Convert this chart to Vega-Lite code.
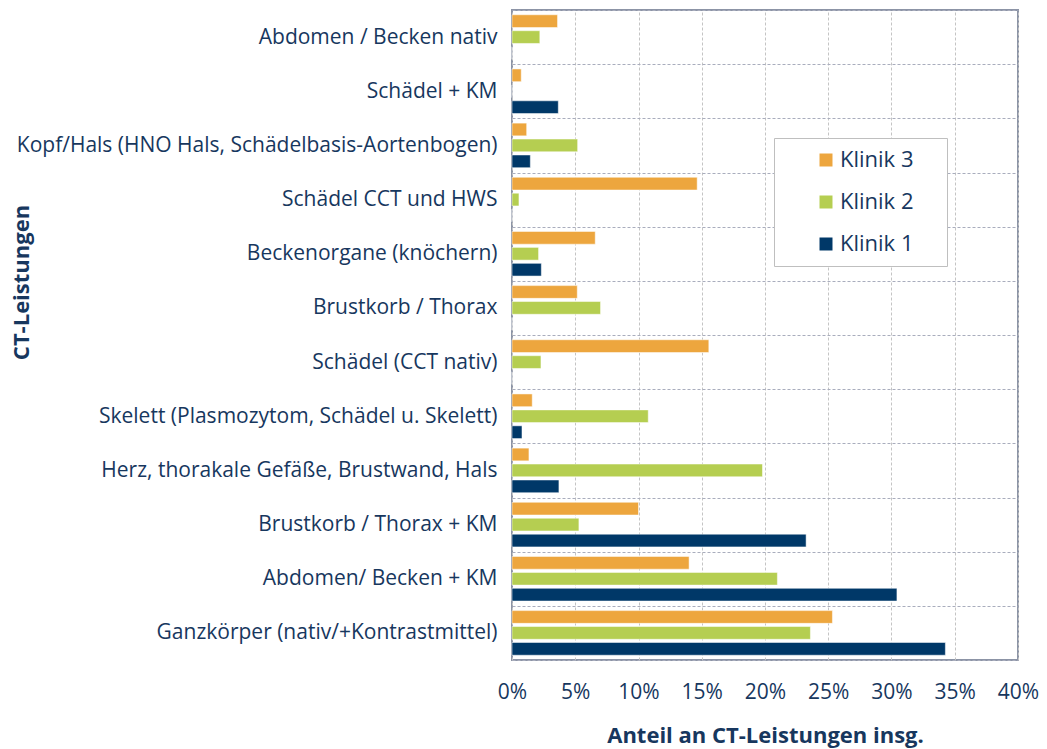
{
  "$schema": "https://vega.github.io/schema/vega-lite/v6.json",
  "width": 506,
  "height": 650,
  "autosize": "none",
  "padding": {"left": 512, "top": 10, "right": 29, "bottom": 89},
  "background": "white",
  "config": {
    "font": "Open Sans",
    "view": {"stroke": "#8c94a6", "strokeWidth": 2}
  },
  "data": {
    "values": [
      {"cat": "Abdomen / Becken nativ", "klinik": "Klinik 3", "value": 0.036},
      {"cat": "Abdomen / Becken nativ", "klinik": "Klinik 2", "value": 0.022},
      {"cat": "Abdomen / Becken nativ", "klinik": "Klinik 1", "value": 0.0},
      {"cat": "Schädel + KM", "klinik": "Klinik 3", "value": 0.0073},
      {"cat": "Schädel + KM", "klinik": "Klinik 2", "value": 0.0},
      {"cat": "Schädel + KM", "klinik": "Klinik 1", "value": 0.0366},
      {"cat": "Kopf/Hals (HNO Hals, Schädelbasis-Aortenbogen)", "klinik": "Klinik 3", "value": 0.0116},
      {"cat": "Kopf/Hals (HNO Hals, Schädelbasis-Aortenbogen)", "klinik": "Klinik 2", "value": 0.0519},
      {"cat": "Kopf/Hals (HNO Hals, Schädelbasis-Aortenbogen)", "klinik": "Klinik 1", "value": 0.0145},
      {"cat": "Schädel CCT und HWS", "klinik": "Klinik 3", "value": 0.1464},
      {"cat": "Schädel CCT und HWS", "klinik": "Klinik 2", "value": 0.0055},
      {"cat": "Schädel CCT und HWS", "klinik": "Klinik 1", "value": 0.0},
      {"cat": "Beckenorgane (knöchern)", "klinik": "Klinik 3", "value": 0.0658},
      {"cat": "Beckenorgane (knöchern)", "klinik": "Klinik 2", "value": 0.021},
      {"cat": "Beckenorgane (knöchern)", "klinik": "Klinik 1", "value": 0.0232},
      {"cat": "Brustkorb / Thorax", "klinik": "Klinik 3", "value": 0.0516},
      {"cat": "Brustkorb / Thorax", "klinik": "Klinik 2", "value": 0.07},
      {"cat": "Brustkorb / Thorax", "klinik": "Klinik 1", "value": 0.0},
      {"cat": "Schädel (CCT nativ)", "klinik": "Klinik 3", "value": 0.1556},
      {"cat": "Schädel (CCT nativ)", "klinik": "Klinik 2", "value": 0.0229},
      {"cat": "Schädel (CCT nativ)", "klinik": "Klinik 1", "value": 0.0},
      {"cat": "Skelett (Plasmozytom, Schädel u. Skelett)", "klinik": "Klinik 3", "value": 0.016},
      {"cat": "Skelett (Plasmozytom, Schädel u. Skelett)", "klinik": "Klinik 2", "value": 0.1077},
      {"cat": "Skelett (Plasmozytom, Schädel u. Skelett)", "klinik": "Klinik 1", "value": 0.0079},
      {"cat": "Herz, thorakale Gefäße, Brustwand, Hals", "klinik": "Klinik 3", "value": 0.0134},
      {"cat": "Herz, thorakale Gefäße, Brustwand, Hals", "klinik": "Klinik 2", "value": 0.198},
      {"cat": "Herz, thorakale Gefäße, Brustwand, Hals", "klinik": "Klinik 1", "value": 0.0371},
      {"cat": "Brustkorb / Thorax + KM", "klinik": "Klinik 3", "value": 0.1},
      {"cat": "Brustkorb / Thorax + KM", "klinik": "Klinik 2", "value": 0.0529},
      {"cat": "Brustkorb / Thorax + KM", "klinik": "Klinik 1", "value": 0.2325},
      {"cat": "Abdomen/ Becken + KM", "klinik": "Klinik 3", "value": 0.14},
      {"cat": "Abdomen/ Becken + KM", "klinik": "Klinik 2", "value": 0.2098},
      {"cat": "Abdomen/ Becken + KM", "klinik": "Klinik 1", "value": 0.3043},
      {"cat": "Ganzkörper (nativ/+Kontrastmittel)", "klinik": "Klinik 3", "value": 0.2533},
      {"cat": "Ganzkörper (nativ/+Kontrastmittel)", "klinik": "Klinik 2", "value": 0.2359},
      {"cat": "Ganzkörper (nativ/+Kontrastmittel)", "klinik": "Klinik 1", "value": 0.3426}
    ]
  },
  "mark": {"type": "bar", "stroke": "white", "strokeOpacity": 0.5, "strokeWidth": 1},
  "encoding": {
    "y": {
      "field": "cat",
      "type": "nominal",
      "sort": null,
      "scale": {"paddingInner": 0, "paddingOuter": 0},
      "axis": {
        "title": "CT-Leistungen",
        "titleFontSize": 22,
        "titleFontWeight": "bold",
        "titleColor": "#17375E",
        "titleX": -484,
        "titleY": 272,
        "titleAlign": "center",
        "titleAngle": -90,
        "titleBaseline": "alphabetic",
        "labelFontSize": 21,
        "labelColor": "#17375E",
        "labelPadding": 15,
        "labelLimit": 600,
        "ticks": false,
        "domain": false,
        "grid": true,
        "tickBand": "extent",
        "gridColor": "#a9adbd",
        "gridDash": [3, 2],
        "gridWidth": 1
      }
    },
    "yOffset": {
      "field": "klinik",
      "type": "nominal",
      "sort": ["Klinik 3", "Klinik 2", "Klinik 1"],
      "scale": {"paddingInner": 0.2, "paddingOuter": 0.3}
    },
    "x": {
      "field": "value",
      "type": "quantitative",
      "scale": {"domain": [0, 0.4], "nice": false},
      "axis": {
        "title": "Anteil an CT-Leistungen insg.",
        "titleFontSize": 22,
        "titleFontWeight": "bold",
        "titleColor": "#17375E",
        "titleY": 65,
        "format": ".0%",
        "values": [0, 0.05, 0.1, 0.15, 0.2, 0.25, 0.3, 0.35, 0.4],
        "labelFontSize": 21,
        "labelColor": "#17375E",
        "labelPadding": 21,
        "labelFlush": false,
        "ticks": false,
        "domain": false,
        "grid": true,
        "gridColor": "#c4c4c4",
        "gridDash": [3, 2],
        "gridWidth": 1
      }
    },
    "color": {
      "field": "klinik",
      "type": "nominal",
      "sort": ["Klinik 3", "Klinik 2", "Klinik 1"],
      "scale": {
        "domain": ["Klinik 3", "Klinik 2", "Klinik 1"],
        "range": ["#EDA63E", "#B5CE51", "#003868"]
      },
      "legend": {
        "title": null,
        "orient": "none",
        "legendX": 262,
        "legendY": 128,
        "symbolType": "square",
        "symbolSize": 210,
        "symbolOffset": 30,
        "labelFontSize": 22,
        "labelColor": "#17375E",
        "labelOffset": 3,
        "labelExpr": "datum.label + '\u2003\u200b'",
        "rowPadding": 20,
        "padding": 11,
        "strokeColor": "#bfbfbf",
        "fillColor": "white",
        "encode": {"legend": {"update": {"strokeWidth": {"value": 2}}}}
      }
    }
  }
}
